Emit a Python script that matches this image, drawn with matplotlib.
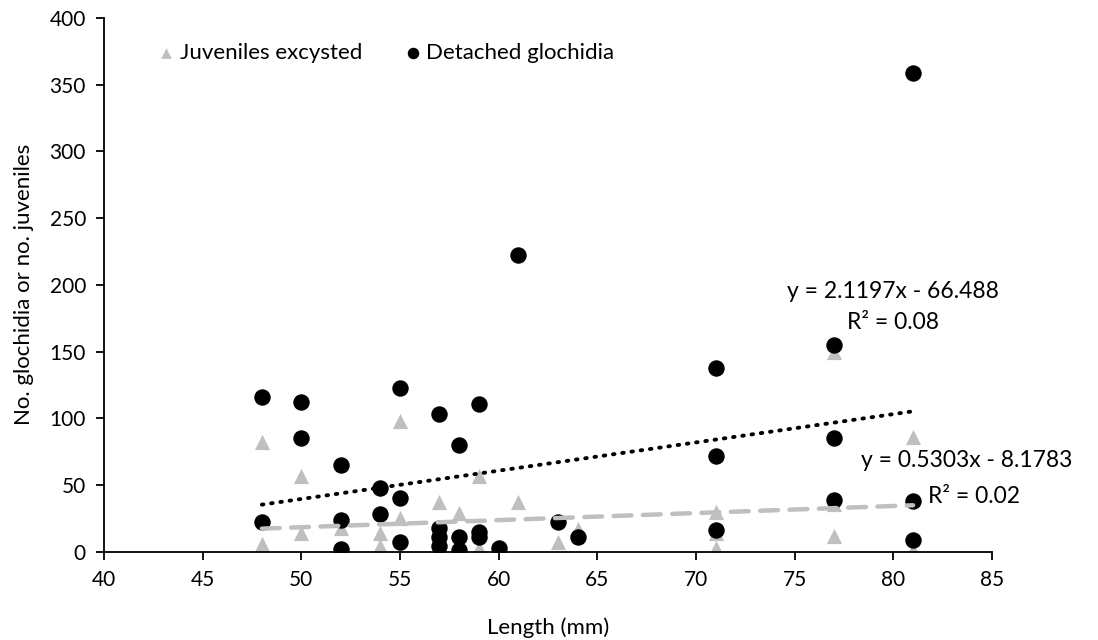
import numpy as np
import matplotlib.pyplot as plt

plt.rcParams['font.family'] = ['Lato', 'DejaVu Sans']

# detached glochidia (black circles)
det_len = [48, 48, 50, 50, 52, 52, 52, 54, 54, 55, 55, 55,
           57, 57, 57, 57, 58, 58, 58, 59, 59, 59, 60, 61, 63, 64,
           71, 71, 71, 77, 77, 77, 81, 81, 81]
det_val = [116, 22, 112, 85, 65, 24, 2, 48, 28, 123, 40, 7,
           103, 18, 11, 4, 80, 11, 1, 111, 15, 11, 3, 222, 22, 11,
           138, 72, 16, 155, 85, 39, 359, 38, 9]

# juveniles excysted (grey triangles)
juv_len = [48, 48, 50, 50, 52, 52, 52, 54, 54, 55, 55, 55,
           57, 57, 57, 57, 58, 58, 58, 59, 59, 59, 60, 61, 63, 64,
           71, 71, 71, 77, 77, 77, 81, 81, 81]
juv_val = [82, 6, 57, 14, 18, 0, 0, 14, 4, 98, 25, 0,
           37, 2, 1, 0, 29, 0, 0, 57, 3, 0, 0, 37, 7, 17,
           30, 14, 3, 150, 36, 12, 86, 1, 0]

# trendline coefficients as printed on the chart
det_fit = (2.1197, -66.488)
juv_fit = (0.5303, -8.1783)

grey = '#BFBFBF'

fig = plt.figure(figsize=(10.98, 6.4), dpi=100)
ax = fig.add_axes([0.0947, 0.138, 0.8088, 0.834])

ax.scatter(juv_len, juv_val, marker='^', s=120, color=grey, lw=0,
           label='Juveniles excysted', zorder=2)
ax.scatter(det_len, det_val, marker='o', s=140, color='black', lw=0,
           label='Detached glochidia', zorder=3)

xx = np.array([min(det_len), max(det_len)])
ax.plot(xx, det_fit[0] * xx + det_fit[1], color='black', lw=2.8,
        linestyle=(0, (0.4, 2.0)), dash_capstyle='round', zorder=4)
xx = np.array([min(juv_len), max(juv_len)])
ax.plot(xx, juv_fit[0] * xx + juv_fit[1], color=grey, lw=3.2,
        linestyle=(0, (4, 2.6)), dash_capstyle='round', zorder=4)

ax.text(79.97, 194.7, 'y = 2.1197x - 66.488', ha='center', va='center', fontsize=16.5)
ax.text(79.97, 171.5, 'R² = 0.08', ha='center', va='center', fontsize=16.5)
ax.text(83.7, 68.7, 'y = 0.5303x - 8.1783', ha='center', va='center', fontsize=16.5)
ax.text(84.1, 41, 'R² = 0.02', ha='center', va='center', fontsize=16.5)

ax.set_xlim(40, 85)
ax.set_ylim(0, 400)
ax.set_xticks(range(40, 86, 5))
ax.set_yticks(range(0, 401, 50))
for s in ['top', 'right']:
    ax.spines[s].set_visible(False)
for s in ['left', 'bottom']:
    ax.spines[s].set_linewidth(1.3)
ax.tick_params(direction='out', length=6, width=1.3, labelsize=15, pad=7)
ax.set_xlabel('Length (mm)', fontsize=16, labelpad=20)
ax.set_ylabel('No. glochidia or no. juveniles', fontsize=16, labelpad=11)

ax.legend(loc='upper left', bbox_to_anchor=(0.035, 0.99), ncol=2, frameon=False,
          fontsize=16, markerscale=0.7, handletextpad=0.1, columnspacing=1.8,
          handlelength=1.0)

fig.savefig('out.png')
